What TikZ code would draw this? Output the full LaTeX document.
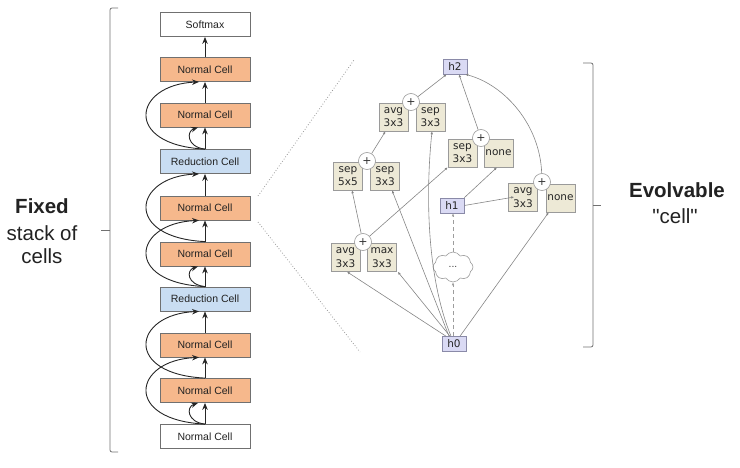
\documentclass[tikz,border=0pt]{standalone}
\usepackage{fontspec}
\setmainfont{Liberation Sans}
\newfontfamily\rawsans{Liberation Sans}[Ligatures=TeXOff]
\newfontfamily\dv{DejaVu Sans}
\usetikzlibrary{arrows.meta,shapes.symbols}
\definecolor{orangecell}{HTML}{F6B88C}
\definecolor{bluecell}{HTML}{C9DDF2}
\definecolor{cellborder}{HTML}{707070}
\definecolor{opfill}{HTML}{EDE9D6}
\definecolor{opborder}{HTML}{9A9A9A}
\definecolor{hfill}{HTML}{DADAF4}
\definecolor{hborder}{HTML}{8A8AA8}
\definecolor{edgegray}{HTML}{858585}
\definecolor{txt}{HTML}{222222}
\definecolor{bracketgray}{HTML}{707070}
\begin{document}
\begin{tikzpicture}[x=1pt,y=-1pt,
 stackbox/.style={draw=cellborder, line width=0.8pt, minimum width=90pt, minimum height=24pt, inner sep=0pt, text=txt, font=\fontsize{10.5}{12}\selectfont},
 normal/.style={stackbox, fill=orangecell},
 reduction/.style={stackbox, fill=bluecell},
 plaincell/.style={stackbox, fill=white},
 arr/.style={-{Stealth[length=7pt,width=5.5pt]}, line width=0.9pt, draw=black!85},
 opbox/.style={draw=opborder, fill=opfill, line width=0.6pt, minimum width=29pt, minimum height=28pt, inner sep=0pt, align=center, text=black!85, font=\dv\fontsize{10.5}{13.5}\selectfont},
 hbox/.style={draw=hborder, fill=hfill, line width=0.6pt, minimum width=24pt, minimum height=15pt, inner sep=0pt, text=black!85, font=\dv\fontsize{10.5}{12}\selectfont},
 plus/.style={circle, draw=opborder, fill=white, line width=0.6pt, minimum size=17pt, inner sep=0pt, text=black!80, font=\dv\fontsize{11}{12}\selectfont},
 opedge/.style={draw=edgegray, line width=0.6pt, -{Latex[length=3pt,width=2.6pt]}},
 dashedge/.style={draw=edgegray!80, line width=0.9pt, dash pattern=on 4pt off 3pt, -{Latex[length=3pt,width=2.6pt]}},
 biglabel/.style={text=txt, font=\fontsize{20.5}{25}\selectfont},
 bracket/.style={draw=bracketgray, line width=0.8pt},
 zoomline/.style={draw=gray!80, dotted, line width=0.8pt}
]
\useasboundingbox (0,0) rectangle (740,468);

% ---------- left stack ----------
\node[plaincell] (sm) at (205,24.5) {Softmax};
\node[normal] (n1) at (205,69.5) {Normal Cell};
\node[normal] (n2) at (205,115) {Normal Cell};
\node[reduction] (r1) at (205,161.5) {Reduction Cell};
\node[normal] (n3) at (205,208) {Normal Cell};
\node[normal] (n4) at (205,254) {Normal Cell};
\node[reduction] (r2) at (205,299) {Reduction Cell};
\node[normal] (n5) at (205,345) {Normal Cell};
\node[normal] (n6) at (205,390.5) {Normal Cell};
\node[plaincell] (n0) at (205,436.5) {Normal Cell};

\foreach \a/\b in {n0/n6,n6/n5,n5/r2,r2/n4,n4/n3,n3/r1,r1/n2,n2/n1,n1/sm}
  \draw[arr] (\a.north) -- (\b.south);
\foreach \a/\b in {n0/n5,n6/r2,r2/n3,n4/r1,r1/n1}
  \draw[arr] (\a.north) .. controls +(-82,-4) and +(-66,3) .. ([xshift=-6pt]\b.south);
\foreach \a/\b in {n0/n6,r2/n4,r1/n2}
  \draw[arr] (\a.north) .. controls +(-18,-2) and +(-12,4) .. ([xshift=-7pt]\b.south);

% brackets
\draw[bracket, rounded corners=2pt] (118,8) -- (110,8) -- (110,452) -- (118,452);
\draw[bracket] (110,230) -- (101,230);
\draw[bracket, rounded corners=2pt] (583,63) -- (593,63) -- (593,347) -- (583,347);
\draw[bracket] (593,205) -- (601,205);

% labels
\node[biglabel, font=\bfseries\fontsize{20.5}{25}\selectfont] (fixed) at (42,206) {Fixed};
\node[biglabel] (stackof) at (42,233) {stack of};
\node[biglabel] (cells) at (42,256) {cells};
\node[biglabel, font=\bfseries\fontsize{20.5}{25}\selectfont] (evo) at (677,190) {Evolvable};
\node[biglabel, font=\rawsans\fontsize{20.5}{25}\selectfont] (celllbl) at (675,216) {"cell"};

% zoom lines
\coordinate (za) at (258,196);
\coordinate (zb) at (354,60);
\coordinate (zc) at (258,222);
\coordinate (zd) at (360,352);
\draw[zoomline] (za) -- (zb);
\draw[zoomline] (zc) -- (zd);

% ---------- cell ----------
\node[hbox] (h2) at (455,66.5) {h2};
\node[hbox] (h1) at (452,205.5) {h1};
\node[hbox] (h0) at (454,344) {h0};

\node[opbox] (avgT) at (393.5,117) {avg\\3x3};
\node[opbox] (sepT) at (430.5,117) {sep\\3x3};
\node[opbox] (sepM) at (462.5,153) {sep\\3x3};
\node[opbox] (noneM) at (498.5,153) {none};
\node[opbox] (sep5) at (348,176) {sep\\5x5};
\node[opbox] (sepL) at (385,176) {sep\\3x3};
\node[opbox] (avgR) at (523,197.5) {avg\\3x3};
\node[opbox] (noneR) at (560.5,198) {none};
\node[opbox] (avgB) at (345.5,257.5) {avg\\3x3};
\node[opbox] (maxB) at (382,257.5) {max\\3x3};

\node[plus] (ptop) at (411,102) {+};
\node[plus] (pmid) at (481,138) {+};
\node[plus] (pleft) at (367,161) {+};
\node[plus] (pright) at (542,182) {+};
\node[plus] (pbot) at (363,242) {+};

\node[cloud, cloud puffs=8, cloud puff arc=115, aspect=1.3, draw=opborder, fill=white, line width=0.6pt, minimum width=40pt, minimum height=30pt, inner sep=0pt, text=black!80, font=\dv\fontsize{9}{10}\selectfont] (cl) at (453,267) {...};

% edges
\draw[opedge] (ptop) -- ([xshift=4pt]h2.south west);
\draw[opedge] (pmid) -- ([xshift=4pt]h2.south);
\draw[opedge] (pright) .. controls (540,125) and (505,85) .. ([xshift=-2pt]h2.south east);
\draw[opedge] (pleft) -- ([xshift=-8pt]avgT.south);
\draw[opedge] ([xshift=-3pt]h0.north) .. controls (428,280) and (425,200) .. ([xshift=1.5pt]sepT.south);
\draw[opedge] (pbot) -- (sepM.south west);
\draw[opedge] (h1.north east) -- ([xshift=-1.5pt]noneM.south);
\draw[opedge] (h1.east) -- ([xshift=6pt,yshift=0.5pt]avgR.west);
\draw[opedge] ([xshift=6pt]h0.north) -- ([xshift=3pt]noneR.south west);
\draw[opedge] (pbot) -- ([xshift=4pt]sep5.south);
\draw[opedge] ([xshift=-5pt]h0.north) -- ([xshift=7pt]sepL.south);
\draw[opedge] ([xshift=-8pt]h0.north) -- ([xshift=1.5pt]avgB.south);
\draw[opedge] ([xshift=-4pt]h0.north) -- ([xshift=1pt]maxB.south east);
\draw[dashedge] (h0.north -| cl) -- (cl);
\draw[dashedge] (cl) -- (cl |- h1.south);
\end{tikzpicture}
\end{document}
